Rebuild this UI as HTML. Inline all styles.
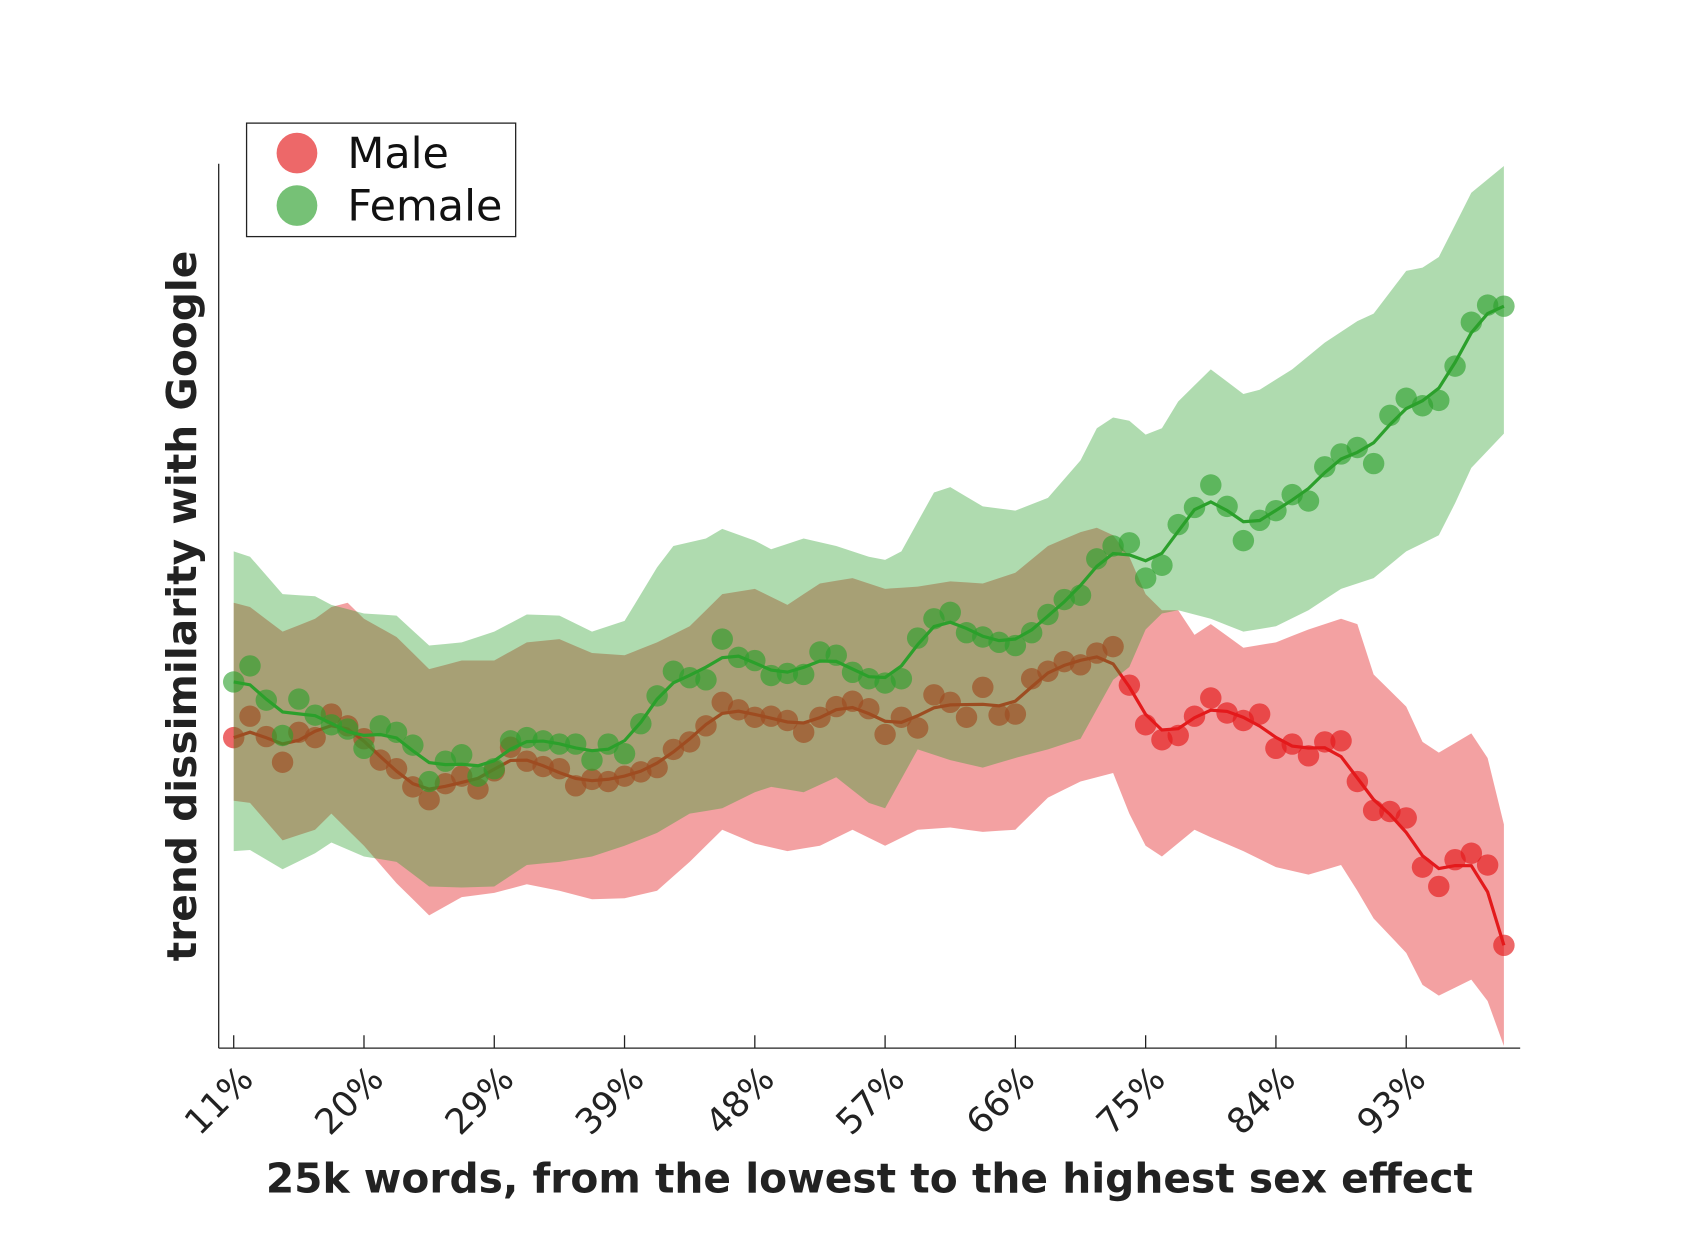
<!DOCTYPE html>
<html><head><meta charset="utf-8"><style>html,body{margin:0;padding:0;background:#fff}svg{display:block}</style></head>
<body>
<svg id="chart" width="1681" height="1259" viewBox="0 0 1568 1176" preserveAspectRatio="none" xmlns="http://www.w3.org/2000/svg" font-family="'DejaVu Sans','Liberation Sans',sans-serif">
<rect width="1568" height="1176" fill="#fff"/>
<g id="plot"></g>
<line x1="204" y1="153" x2="204" y2="979" stroke="#222" stroke-width="1.2"/>
<line x1="204" y1="979" x2="1418" y2="979" stroke="#222" stroke-width="1.2"/>
<g id="ticks"></g>
<text transform="translate(183,566) rotate(-90)" text-anchor="middle" font-size="38" font-weight="bold" fill="#222">trend dissimilarity with Google</text>
<text x="811" y="1114" text-anchor="middle" font-size="38" font-weight="bold" fill="#222">25k words, from the lowest to the highest sex effect</text>
<g>
<rect x="230" y="115" width="251" height="106" fill="#fff" stroke="#222" stroke-width="1.2"/>
<circle cx="277" cy="143" r="19" fill="rgba(227,26,28,0.66)"/>
<text x="324" y="157" font-size="40" fill="#111">Male</text>
<circle cx="277" cy="192" r="19" fill="rgba(44,160,44,0.65)"/>
<text x="324" y="206" font-size="40" fill="#111">Female</text>
</g>
</svg>
<script>
const tickLabels = ["11%","20%","29%","39%","48%","57%","66%","75%","84%","93%"];
const tickIdx = [0,8,16,24,32,40,48,56,64,72];
const maleVals = [689,669,688,712,684,689,667,678,690,710,718,735,747,732,725,737,720,698,711,716,718,734,728,730,725,721,717,700,693,678,656,663,670,669,673,684,670,660,655,662,686,670,680,649,656,670,642,668,667,634,627,618,621,610,604,640,677,691,687,669,652,666,673,667,699,695,706,693,692,730,757,758,764,810,828,803,797,808,883].map(y=>979-y);
const femaleVals = [637,622,654,687,653,668,677,681,699,678,684,696,730,711,705,725,718,692,689,692,695,695,710,695,704,676,650,627,633,635,597,614,617,631,629,630,609,612,628,634,638,634,596,578,572,591,595,600,603,591,574,560,556,522,510,507,540,528,490,474,453,473,505,486,477,462,468,436,424,418,433,388,372,379,374,342,301,285,286].map(y=>979-y);
const greenUpIdx = [0,1,3,5,6,8,10,12,14,16,18,20,22,24,26,27,29,30,32,33,35,37,39,40,41,43,44,46,48,50,52,53,54,55,56,57,58,60,62,63,65,67,69,70,72,73,74,76,78];
const greenUp = [515,520,555,557,565,573,575,603,600,590,574,575,590,580,530,510,503,494,505,513,503,510,520,523,515,460,455,473,477,465,430,400,390,393,406,400,375,345,368,364,345,320,300,293,253,250,240,180,155].map(y=>979-y);
const greenLoIdx = [0,1,3,5,6,8,10,12,14,16,18,20,22,24,26,28,30,32,33,35,37,39,40,42,44,46,48,50,52,54,55,56,57,58,60,62,64,66,68,70,72,74,75,76,78];
const greenLo = [795,794,812,797,787,800,805,828,829,828,808,805,800,790,778,760,755,740,735,740,726,750,755,700,710,717,708,700,690,635,623,588,573,570,578,590,585,570,550,540,515,500,470,437,405].map(y=>979-y);
const redUpIdx = [0,1,3,5,6,7,8,10,12,14,16,18,20,22,24,26,28,30,32,34,36,38,40,42,44,46,48,50,52,53,54,55,56,57,58,59,60,62,64,66,68,69,70,72,73,74,76,77,78];
const redUp = [563,567,590,578,567,563,578,595,625,617,617,600,597,610,612,600,585,555,550,565,545,540,550,548,543,545,535,510,497,493,500,520,555,570,570,593,583,605,600,588,578,583,630,660,693,703,685,708,770].map(y=>979-y);
const redLoIdx = [0,1,3,5,6,8,10,12,14,16,18,20,22,24,26,28,30,32,34,36,38,40,42,44,46,48,50,52,54,55,56,57,59,60,62,64,66,68,69,70,72,73,74,76,77,78];
const redLo = [748,750,785,775,760,790,825,855,838,834,826,832,840,839,832,805,775,788,795,790,775,790,775,773,777,775,745,730,722,760,790,800,775,782,795,810,817,808,832,858,890,920,930,915,935,977].map(y=>979-y);

const NS="http://www.w3.org/2000/svg";
const xS = i => 218 + i*15.19;
const yS = v => 979 - v;
function interp(idx, vals){const out=[];for(let i=0;i<=78;i++){let k=0;while(k<idx.length-1&&idx[k+1]<i)k++;const a=idx[k],b=idx[Math.min(k+1,idx.length-1)];const t=b===a?0:(i-a)/(b-a);out.push(vals[k]+(vals[Math.min(k+1,vals.length-1)]-vals[k])*Math.max(0,Math.min(1,t)));}return out;}
function smooth(a){let r=a.slice();for(let p=0;p<2;p++){const s=r.slice();for(let i=1;i<r.length-1;i++)s[i]=(r[i-1]+2*r[i]+r[i+1])/4;r=s;}return r;}
function band(upI,up,loI,lo,fill,op,name){const u=interp(upI,up),l=interp(loI,lo);let d='M';for(let i=0;i<=78;i++)d+=xS(i).toFixed(1)+','+yS(u[i]).toFixed(1)+' L';for(let i=78;i>=0;i--)d+=xS(i).toFixed(1)+','+yS(l[i]).toFixed(1)+(i?' L':' Z');const p=document.createElementNS(NS,'path');p.setAttribute('d',d);p.setAttribute('fill',fill);p.setAttribute('fill-opacity',op);


return p;}
function series(vals,color,dotFill,name){const g=document.createElementNS(NS,'g');


const s=smooth(vals);const pl=document.createElementNS(NS,'polyline');pl.setAttribute('points',s.map((v,i)=>xS(i).toFixed(1)+','+yS(v).toFixed(1)).join(' '));pl.setAttribute('fill','none');pl.setAttribute('stroke',color);pl.setAttribute('stroke-width','3');


g.appendChild(pl);
vals.forEach((v,i)=>{const c=document.createElementNS(NS,'circle');c.setAttribute('cx',xS(i));c.setAttribute('cy',yS(v));c.setAttribute('r','10');c.setAttribute('fill',dotFill);


g.appendChild(c);});return g;}
const plot=document.getElementById('plot');
plot.appendChild(band(redUpIdx,redUp,redLoIdx,redLo,'rgb(227,26,28)','0.41','male-band'));
plot.appendChild(series(maleVals,'rgb(227,26,28)','rgba(227,26,28,0.66)','male-series'));
plot.appendChild(band(greenUpIdx,greenUp,greenLoIdx,greenLo,'rgb(44,160,44)','0.38','female-band'));
plot.appendChild(series(femaleVals,'rgb(44,160,44)','rgba(44,160,44,0.62)','female-series'));
const tg=document.getElementById('ticks');
tickIdx.forEach((ti,k)=>{const x=xS(ti);const l=document.createElementNS(NS,'line');l.setAttribute('x1',x);l.setAttribute('x2',x);l.setAttribute('y1',979);l.setAttribute('y2',967);l.setAttribute('stroke','#222');l.setAttribute('stroke-width','1.2');


tg.appendChild(l);
const t=document.createElementNS(NS,'text');t.setAttribute('transform','translate('+(x+20)+',1010) rotate(-45)');t.setAttribute('text-anchor','end');t.setAttribute('font-size','33');t.setAttribute('fill','#222');t.textContent=tickLabels[k];


tg.appendChild(t);});
</script>
</body></html>
